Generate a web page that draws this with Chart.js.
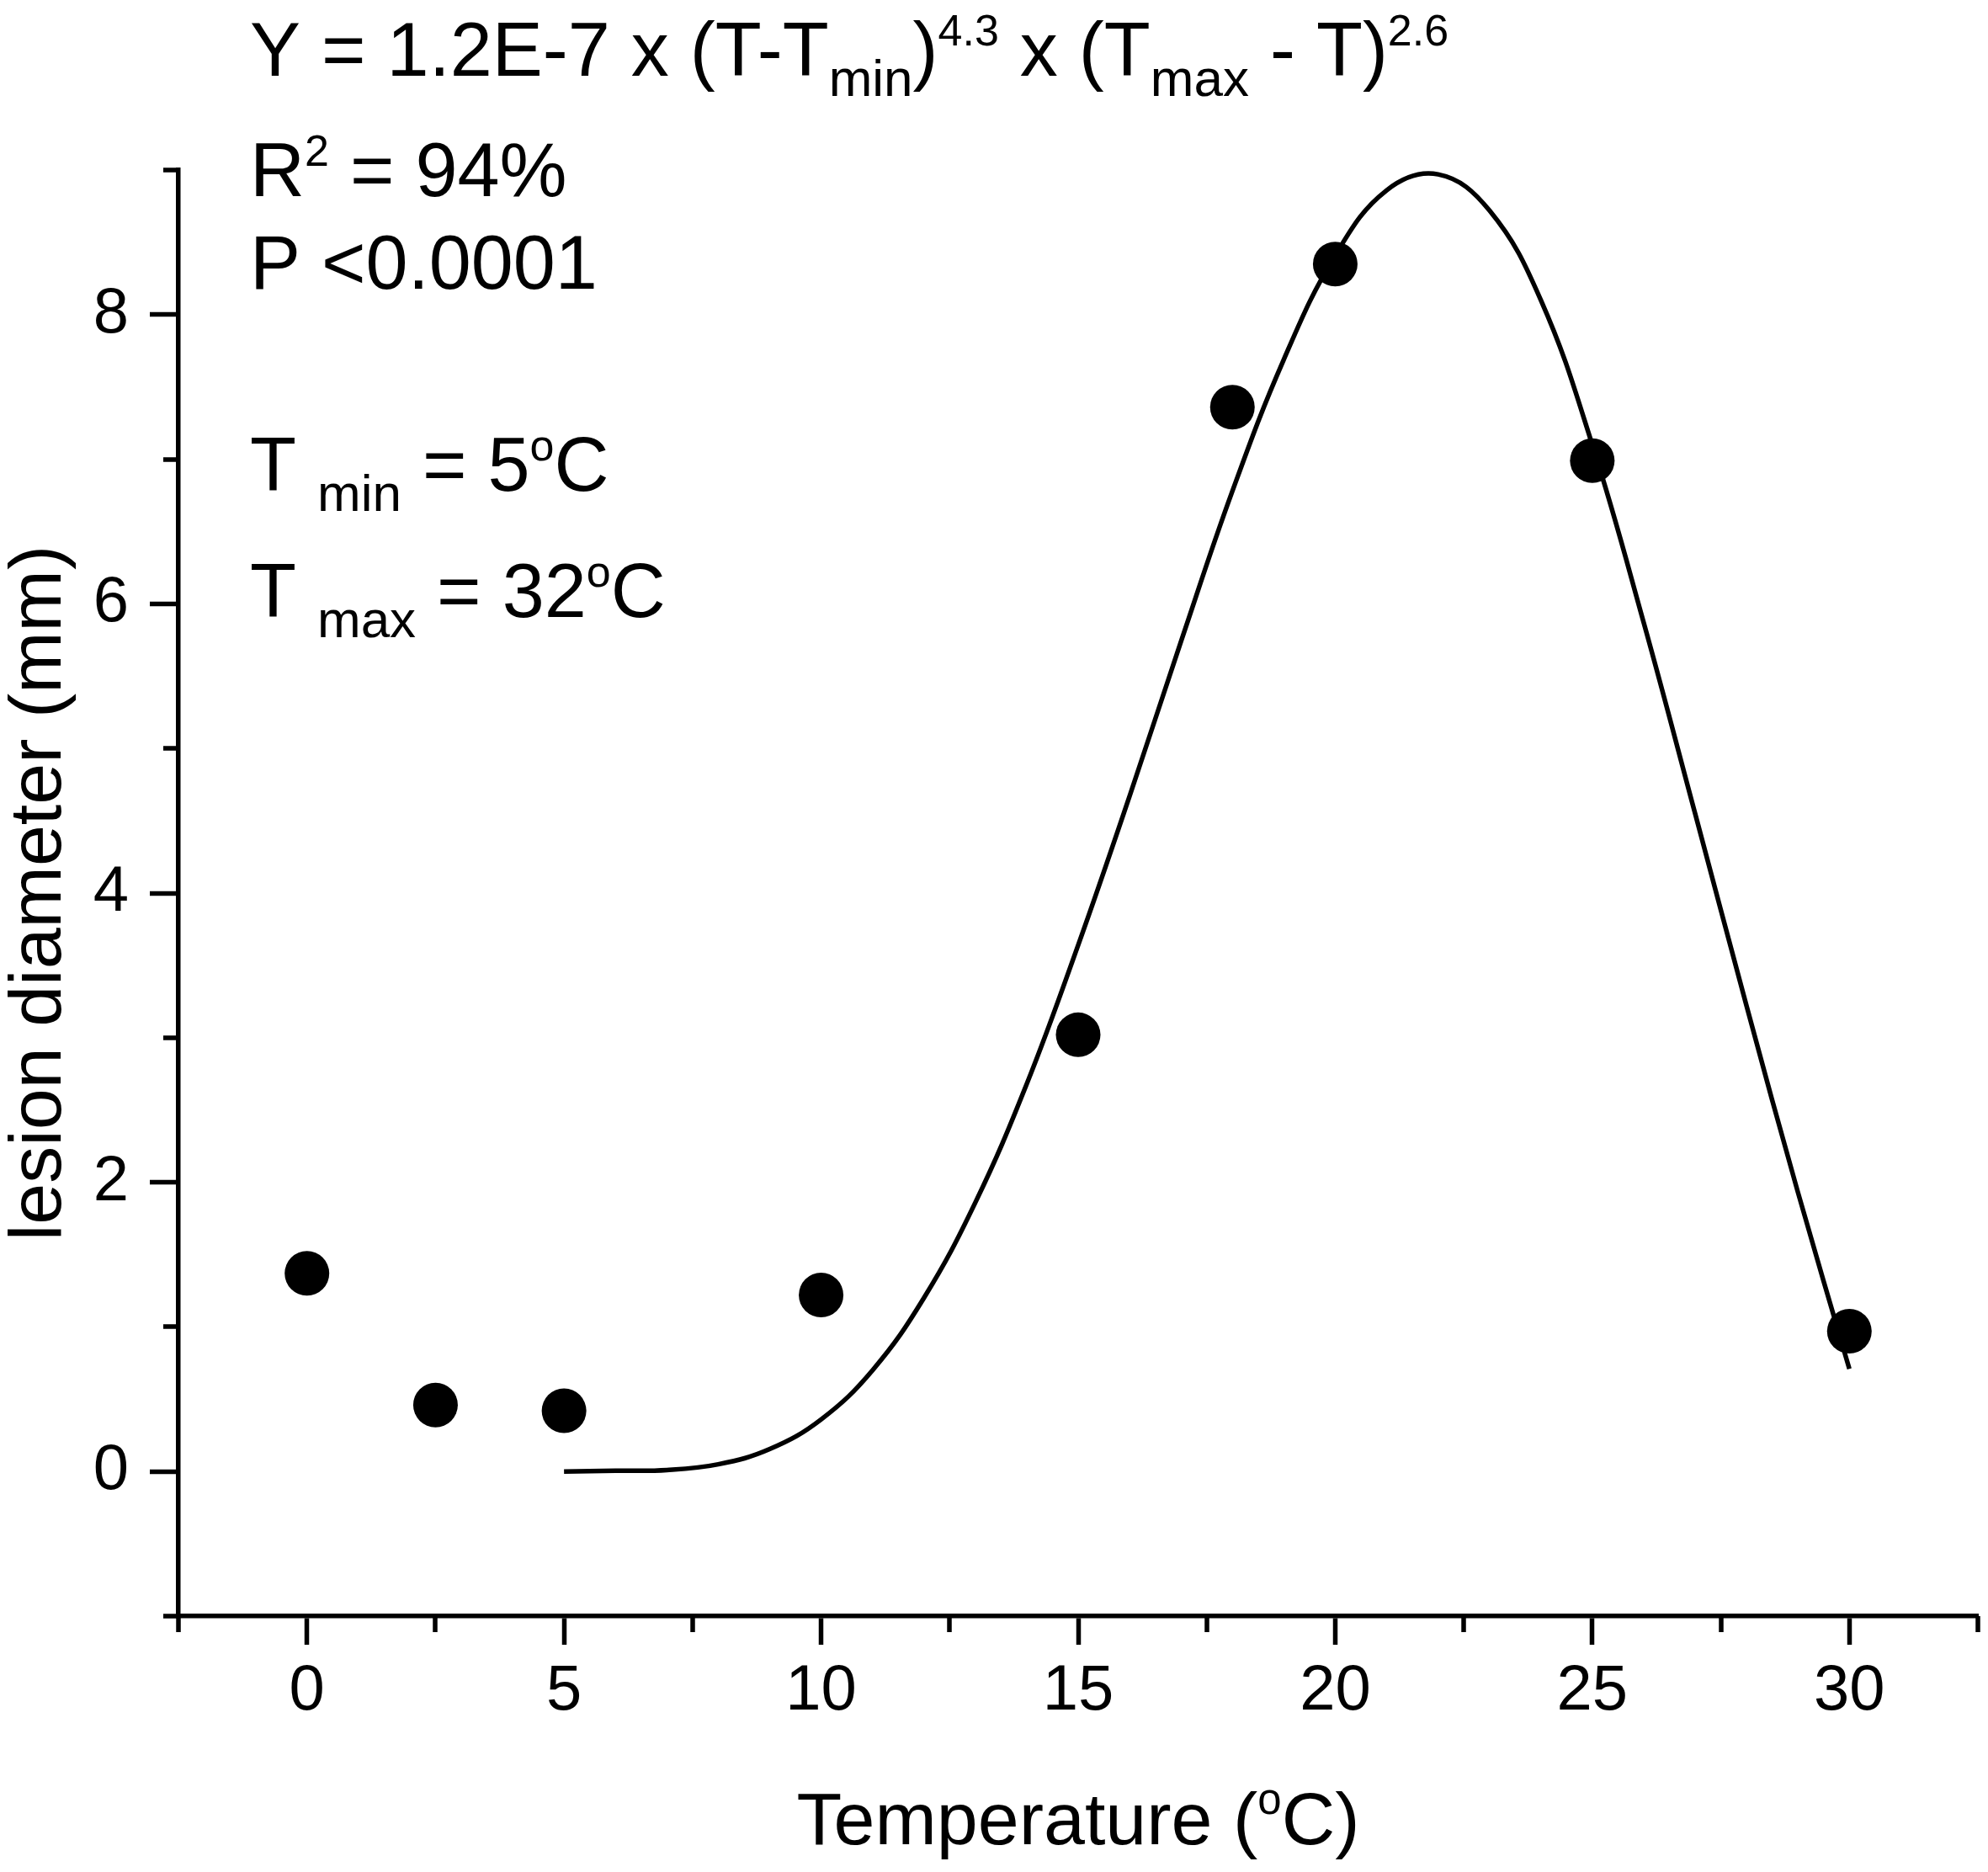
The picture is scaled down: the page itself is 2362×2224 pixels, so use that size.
<!DOCTYPE html>
<html>
<head>
<meta charset="utf-8">
<title>lesion diameter x temperatura</title>
<script src="https://cdn.jsdelivr.net/npm/chart.js"></script>
<style>
  html, body { margin: 0; padding: 0; background: #fff; overflow: hidden; }
  #grafico { display: block; }
</style>
</head>
<body>
<canvas id="grafico" width="2362" height="2224" style="width:2362px;height:2224px"></canvas>
<script>
// pontos observados
const temperaturas = [0, 2.5, 5, 10, 15, 18, 20, 25, 30];
const diametros = [1.37, 0.46, 0.42, 1.22, 3.02, 7.36, 8.35, 6.99, 0.97];

// curva ajustada
const curvaT = [5, 6, 7, 8, 9, 10, 11, 12, 13, 14, 15, 16, 17, 18, 19, 20, 21, 22, 23, 24, 25, 26, 27, 28, 29, 30];
const curvaY = [0, 0.005, 0.01, 0.05, 0.155, 0.36, 0.7, 1.2, 1.86, 2.68, 3.64, 4.67, 5.74, 6.78, 7.69, 8.41, 8.86, 8.97, 8.72, 8.1, 7.1, 5.87, 4.55, 3.22, 1.93, 0.71];

// rotulos dos eixos
const rotulosX = [0, 5, 10, 15, 20, 25, 30];
const rotulosY = [0, 2, 4, 6, 8];

const FONTE = '"Liberation Sans", Arial, sans-serif';

// textos do canto (y = linha de base)
const anotacoes = [
  { y: 90, partes: [["Y = 1.2E-7 x (T-T"], ["min", "sub"], [")"], ["4.3", "sup"], [" x (T"], ["max", "sub"], [" - T)"], ["2.6", "sup"]] },
  { y: 233, partes: [["R"], ["2", "sup"], [" = 94%"]] },
  { y: 343, partes: [["P <0.0001"]] },
  { y: 583, partes: [["T "], ["min", "sub"], [" = 5"], ["o", "sup"], ["C"]] },
  { y: 733, partes: [["T "], ["max", "sub"], [" = 32"], ["o", "sup"], ["C"]] },
];
const tituloX = [["Temperature ("], ["o", "sup"], ["C)"]];

function fonteDe(tipo, base) {
  if (tipo === "sub") return Math.round(base * 0.69) + "px " + FONTE;
  if (tipo === "sup") return Math.round(base * 0.58) + "px " + FONTE;
  return base + "px " + FONTE;
}

function larguraTexto(ctx, partes, base) {
  let w = 0;
  partes.forEach((p) => {
    ctx.font = fonteDe(p[1], base);
    w += ctx.measureText(p[0]).width;
  });
  return w;
}

function escreve(ctx, partes, x, y, base) {
  partes.forEach((p) => {
    ctx.font = fonteDe(p[1], base);
    let dy = 0;
    if (p[1] === "sub") dy = 24;
    if (p[1] === "sup") dy = -36;
    ctx.fillText(p[0], x, y + dy);
    x += ctx.measureText(p[0]).width;
  });
}

const extras = {
  id: "extras",
  afterDraw(chart) {
    const ctx = chart.ctx;
    const area = chart.chartArea;
    const sx = chart.scales.x;
    const sy = chart.scales.y;
    ctx.save();
    // ticks menores
    ctx.strokeStyle = "#000";
    ctx.lineWidth = 5.5;
    ctx.beginPath();
    sx.ticks.forEach((t) => {
      if (rotulosX.includes(t.value)) return;
      const px = Math.round(sx.getPixelForValue(t.value));
      ctx.moveTo(px, area.bottom);
      ctx.lineTo(px, area.bottom + 19);
    });
    sy.ticks.forEach((t) => {
      if (rotulosY.includes(t.value)) return;
      const py = Math.round(sy.getPixelForValue(t.value));
      ctx.moveTo(area.left, py);
      ctx.lineTo(area.left - 18, py);
    });
    ctx.stroke();

    ctx.fillStyle = "#000";
    ctx.textBaseline = "alphabetic";
    ctx.textAlign = "left";
    anotacoes.forEach((a) => escreve(ctx, a.partes, 297, a.y, 90));

    const w = larguraTexto(ctx, tituloX, 88);
    escreve(ctx, tituloX, (area.left + area.right) / 2 - w / 2, 2191, 88);
    ctx.restore();
  },
};

function semPadding(s) {
  s.paddingLeft = 0;
  s.paddingRight = 0;
  s.paddingTop = 0;
  s.paddingBottom = 0;
}

const grafico = new Chart(document.getElementById("grafico"), {
  type: "scatter",
  data: {
    datasets: [
      {
        label: "curva",
        type: "line",
        data: curvaT.map((t, i) => ({ x: t, y: curvaY[i] })),
        borderColor: "#000",
        borderWidth: 5.5,
        pointRadius: 0,
        fill: false,
        tension: 0.4,
      },
      {
        label: "lesion diameter",
        data: temperaturas.map((t, i) => ({ x: t, y: diametros[i] })),
        backgroundColor: "#000",
        borderWidth: 0,
        pointRadius: 26.5,
        pointHoverRadius: 26.5,
      },
    ],
  },
  options: {
    responsive: false,
    devicePixelRatio: 1,
    animation: false,
    layout: { autoPadding: false, padding: { left: 0, right: 12, top: 202, bottom: 0 } },
    plugins: { legend: { display: false }, tooltip: { enabled: false } },
    scales: {
      x: {
        type: "linear",
        min: -2.5,
        max: 32.5,
        afterFit: (s) => { s.height = 304; semPadding(s); },
        border: { display: true, color: "#000", width: 5.5 },
        grid: {
          drawOnChartArea: false,
          drawTicks: true,
          tickLength: 34,
          tickColor: "#000",
          tickWidth: (c) => (rotulosX.includes(c.tick.value) ? 5.5 : 0),
        },
        ticks: {
          stepSize: 2.5,
          autoSkip: false,
          maxRotation: 0,
          color: "#000",
          padding: 10,
          font: { family: FONTE, size: 76 },
          callback: (v) => (rotulosX.includes(v) ? String(v) : ""),
        },
      },
      y: {
        type: "linear",
        min: -1,
        max: 9,
        afterFit: (s) => { s.width = 212; semPadding(s); },
        border: { display: true, color: "#000", width: 5.5 },
        grid: {
          drawOnChartArea: false,
          drawTicks: true,
          tickLength: 34,
          tickColor: "#000",
          tickWidth: (c) => (rotulosY.includes(c.tick.value) ? 5.5 : 0),
        },
        ticks: {
          stepSize: 1,
          autoSkip: false,
          color: "#000",
          padding: 25,
          font: { family: FONTE, size: 76 },
          callback: (v) => (rotulosY.includes(v) ? String(v) : ""),
        },
        title: {
          display: true,
          text: "lesion diameter (mm)",
          color: "#000",
          padding: { top: 4, bottom: 0 },
          font: { family: FONTE, size: 88, lineHeight: 1 },
        },
      },
    },
  },
  plugins: [extras],
});
</script>
</body>
</html>
